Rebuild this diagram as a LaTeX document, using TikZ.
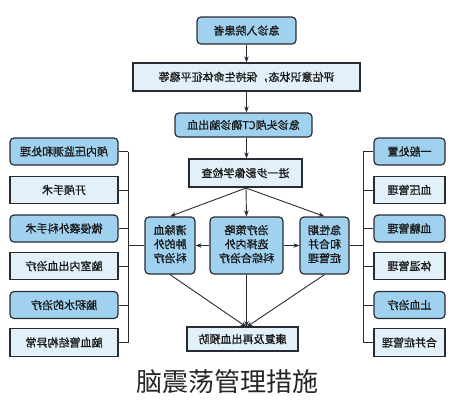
\documentclass[tikz,border=0pt]{standalone}
\usepackage{graphicx}
\usepackage{fontspec}
\newfontfamily\cjk{Noto Sans CJK SC}
\newfontfamily\cjkb[FakeBold=1.2]{Noto Sans CJK SC}
\usetikzlibrary{arrows.meta}
\definecolor{boxblue}{RGB}{160,210,240}
\definecolor{boxlight}{RGB}{226,240,249}
\definecolor{edge}{RGB}{40,44,50}
\newcommand{\mt}[1]{\reflectbox{#1}}
\newcommand{\ml}[1]{\reflectbox{\begin{tabular}{@{}c@{}}#1\end{tabular}}}
\tikzset{
  base/.style={draw=edge, line width=1.2pt, inner sep=0pt, align=center,
    font=\cjkb\fontsize{11}{14}\selectfont, text=black!90},
  rbox/.style={base, fill=boxblue, rounded corners=4pt},
  pbox/.style={base, fill=boxlight},
  link/.style={draw=edge, line width=0.9pt},
  arr/.style={link, -{Stealth[length=6pt,width=4.5pt]}}
}
\begin{document}
\begin{tikzpicture}[x=1pt,y=1pt]
\useasboundingbox (0,0) rectangle (454,-400);
% main column
\node[rbox, minimum width=99pt, minimum height=27pt] (b1) at (246.5,-30.5) {\mt{急诊入院患者}};
\node[pbox, minimum width=227pt, minimum height=28pt] (b2) at (246.5,-77) {\mt{评估意识状态，保持生命体征平稳等}};
\node[rbox, minimum width=137pt, minimum height=24pt] (b3) at (243.5,-125) {\mt{急诊头颅CT确诊脑出血}};
\node[pbox, minimum width=113pt, minimum height=28pt] (b4) at (245.5,-173) {\mt{进一步影像学检查}};
\node[rbox, minimum width=50pt, minimum height=57pt] (mL) at (170,-245.5) {\ml{清除血\\肿的外\\科治疗}};
\node[rbox, minimum width=73pt, minimum height=57pt] (mC) at (246.5,-245.5) {\ml{治疗策略\\选择内外\\科综合治疗}};
\node[rbox, minimum width=49pt, minimum height=57pt] (mR) at (324.5,-245.5) {\ml{急性期\\和合并\\症管理}};
\node[pbox, minimum width=111pt, minimum height=24pt] (bot) at (242.5,-339) {\mt{康复及再出血预防}};
% left column
\node[rbox, minimum width=108pt, minimum height=27pt] (L1) at (64,-151.5) {\mt{颅内压监测和处理}};
\node[pbox, minimum width=108pt, minimum height=27pt] (L2) at (64,-190) {\mt{开颅手术}};
\node[rbox, minimum width=108pt, minimum height=27pt] (L3) at (64,-228.5) {\mt{微侵袭外科手术}};
\node[pbox, minimum width=108pt, minimum height=27pt] (L4) at (64,-266) {\mt{脑室内出血治疗}};
\node[rbox, minimum width=108pt, minimum height=27pt] (L5) at (64,-305) {\mt{脑积水的治疗}};
\node[pbox, minimum width=108pt, minimum height=28pt] (L6) at (64,-342.5) {\mt{脑血管结构异常}};
% right column
\node[rbox, minimum width=71pt, minimum height=27pt] (R1) at (409.5,-151.5) {\mt{一般处置}};
\node[pbox, minimum width=71pt, minimum height=27pt] (R2) at (409.5,-190) {\mt{血压管理}};
\node[rbox, minimum width=71pt, minimum height=27pt] (R3) at (409.5,-228.5) {\mt{血糖管理}};
\node[pbox, minimum width=71pt, minimum height=27pt] (R4) at (409.5,-266) {\mt{体温管理}};
\node[rbox, minimum width=71pt, minimum height=27pt] (R5) at (409.5,-305) {\mt{止血治疗}};
\node[pbox, minimum width=71pt, minimum height=28pt] (R6) at (409.5,-342.5) {\mt{合并症管理}};
% caption
\node[inner sep=0pt, font=\cjk\fontsize{26}{30}\selectfont, text=black!85] (cap) at (227.5,-381.5) {脑震荡管理措施};
% main arrows
\draw[arr] (b1.south) -- (b2.north);
\draw[arr] (b2.south -| b1.south) -- (b3.north -| b1.south);
\draw[arr] (b3.south -| b1.south) -- (b4.north -| b1.south);
\coordinate (fork) at (246,-188);
\draw[arr] (fork) -- (mL.north);
\draw[arr] (fork) -- (mC.north);
\draw[arr] (fork) -- (mR.north);
\draw[arr] (mC.west) -- (mL.east);
\draw[arr] (mC.east) -- (mR.west);
\coordinate (join) at (246.5,-327);
\draw[arr] (mL.south) -- (join);
\draw[arr] (mC.south) -- (join);
\draw[arr] (mR.south) -- (join);
% left bracket
\coordinate (lbar) at (128,-245.5);
\draw[link] (mL.west) -- (lbar);
\draw[link] (L1.east -| lbar) -- (L6.east -| lbar);
\foreach \n in {L1,L2,L3,L4,L5,L6} \draw[link] (\n.east) -- (\n.east -| lbar);
% right bracket
\coordinate (rbar) at (363,-245.5);
\draw[link] (mR.east) -- (rbar);
\draw[link] (R1.west -| rbar) -- (R6.west -| rbar);
\foreach \n in {R1,R2,R3,R4,R5,R6} \draw[link] (\n.west) -- (\n.west -| rbar);
\end{tikzpicture}
\end{document}
